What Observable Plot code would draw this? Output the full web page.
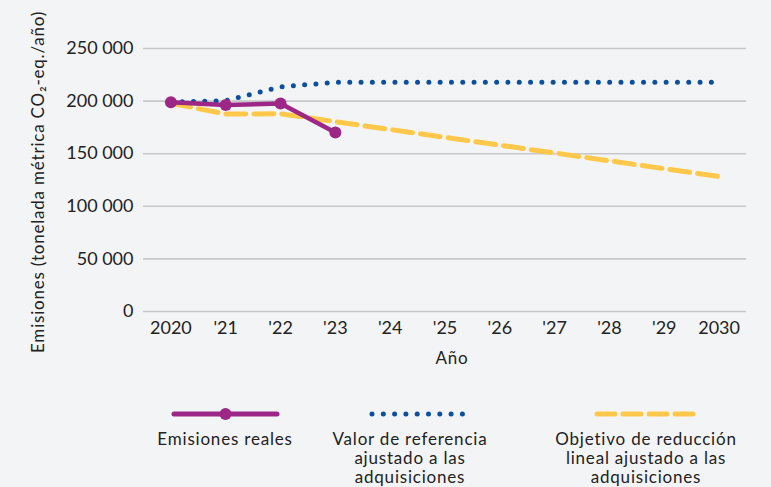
<!DOCTYPE html>
<html><head><meta charset="utf-8">
<script src="https://cdn.jsdelivr.net/npm/d3@7"></script>
<script src="https://cdn.jsdelivr.net/npm/@observablehq/plot@0.6"></script>
<style>
html,body{margin:0;padding:0;background:#f3f4f6;}
#wrap{position:relative;width:771px;height:487px;overflow:hidden;font-family:Lato,sans-serif;color:#222;}
.lg{position:absolute;text-align:center;font-size:17px;line-height:19px;letter-spacing:0.8px;width:260px;color:#222;}
</style></head><body><div id="wrap"></div>
<script>
// ---- data ----
const tickYears = [2020, 2021, 2022, 2023, 2024, 2025, 2026, 2027, 2028, 2029, 2030];
const yTicks = [0, 50000, 100000, 150000, 200000, 250000];

const actualYears = [2020, 2021, 2022, 2023];
const actualValues = [198800, 196200, 197800, 170200];

const baselineYears = [2020, 2021, 2022, 2023, 2030];
const baselineValues = [199000, 200300, 213600, 217800, 217800];

const targetYears = [2020, 2021, 2022, 2030];
const targetValues = [198000, 187700, 187900, 128300];

const seriesNames = ["Emisiones reales", "Valor de referencia ajustado a las adquisiciones", "Objetivo de reducción lineal ajustado a las adquisiciones"];
const colors = {purple: "#9c2786", blue: "#0b4f9d", yellow: "#ffc84a"};

const actual = actualYears.map((y, i) => ({year: y, value: actualValues[i]}));
const baseline = baselineYears.map((y, i) => ({year: y, value: baselineValues[i]}));
const target = targetYears.map((y, i) => ({year: y, value: targetValues[i]}));

const fmtX = d => (d === 2020 || d === 2030) ? String(d) : "'" + String(d).slice(2);
const fmtY = d => d3.format(",")(d).replace(/,/g, " ");

const chart = Plot.plot({
  width: 771,
  height: 390,
  marginLeft: 143,
  marginRight: 25,
  marginTop: 48,
  marginBottom: 79,
  style: {fontFamily: "Lato, sans-serif", background: "transparent", color: "#222", overflow: "visible"},
  x: {domain: [2019.5, 2030.5], label: null},
  y: {domain: [0, 250000], label: null},
  marks: [
    Plot.ruleY(yTicks, {stroke: "#c6c7c9", strokeWidth: 1.6}),
    Plot.axisY({ticks: yTicks, tickFormat: fmtY, tickSize: 0, tickPadding: 10, fontSize: 18, label: null}),
    Plot.axisX({ticks: tickYears, tickFormat: fmtX, tickSize: 0, tickPadding: 10, fontSize: 18, label: null}),
    Plot.text(["Año"], {frameAnchor: "bottom", lineAnchor: "middle", dx: 7, dy: 47, fontSize: 17, fill: "#222", className: "spaced"}),
    Plot.text(["Emisiones (tonelada métrica CO₂-eq./año)"], {frameAnchor: "left", textAnchor: "middle", dx: -105, dy: 2, rotate: -90, fontSize: 17, fill: "#222", className: "spaced"}),
    Plot.line(target, {x: "year", y: "value", stroke: colors.yellow, strokeWidth: 5, strokeDasharray: "20 8"}),
    Plot.line(baseline, {x: "year", y: "value", stroke: colors.blue, strokeWidth: 5, strokeDasharray: "0 11.3", strokeLinecap: "round"}),
    Plot.line(actual, {x: "year", y: "value", stroke: colors.purple, strokeWidth: 4.5}),
    Plot.dot(actual, {x: "year", y: "value", r: 6, fill: colors.purple})
  ]
});

const wrap = document.getElementById("wrap");
wrap.appendChild(chart);
d3.select(chart).selectAll(".spaced text").style("letter-spacing", "0.8px");

// legend samples
const s = d3.select(wrap).append("svg").attr("width", 771).attr("height", 487)
  .style("position", "absolute").style("left", "0px").style("top", "0px").style("pointer-events", "none");
s.append("line").attr("x1", 174).attr("x2", 277).attr("y1", 414).attr("y2", 414)
  .attr("stroke", colors.purple).attr("stroke-width", 5).attr("stroke-linecap", "round");
s.append("circle").attr("cx", 225.5).attr("cy", 414).attr("r", 6).attr("fill", colors.purple);
s.append("line").attr("x1", 372).attr("x2", 463).attr("y1", 414).attr("y2", 414)
  .attr("stroke", colors.blue).attr("stroke-width", 5).attr("stroke-linecap", "round").attr("stroke-dasharray", "0 11.3");
s.append("line").attr("x1", 597).attr("x2", 693).attr("y1", 414).attr("y2", 414)
  .attr("stroke", colors.yellow).attr("stroke-width", 5).attr("stroke-dasharray", "18 8").attr("stroke-linecap", "round");

const legendCenters = [225, 410, 646];
const legendLines = [["Emisiones reales"], ["Valor de referencia", "ajustado a las", "adquisiciones"], ["Objetivo de reducción", "lineal ajustado a las", "adquisiciones"]];
legendCenters.forEach((cx, i) => {
  const d = document.createElement("div");
  d.className = "lg";
  d.style.left = (cx - 130) + "px";
  d.style.top = "429px";
  d.innerHTML = legendLines[i].join("<br>");
  d.title = seriesNames[i];
  wrap.appendChild(d);
});
</script>
</body></html>
